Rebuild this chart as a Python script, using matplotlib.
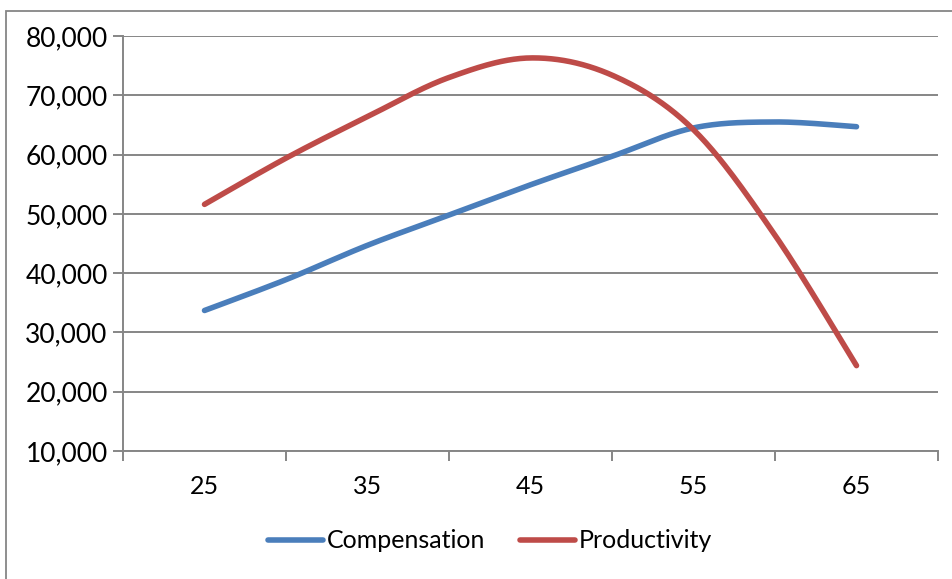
import numpy as np
import matplotlib
matplotlib.use("Agg")
import matplotlib.pyplot as plt
from matplotlib.lines import Line2D
from matplotlib.patches import Rectangle

ages = [25, 30, 35, 40, 45, 50, 55, 60, 65]
compensation = [33700, 38900, 44700, 49800, 54900, 59700, 64500, 65500, 64700]
productivity = [51600, 59400, 66400, 73000, 76300, 73400, 64200, 46400, 24400]
x_labels = ["25", "35", "45", "55", "65"]
x_label_pos = [25, 35, 45, 55, 65]
y_ticks = [10000, 20000, 30000, 40000, 50000, 60000, 70000, 80000]

BLUE = "#4A7EBB"
RED = "#BE4B48"
GRID = "#868686"
FONT = "Lato"


def smooth(xs, ys, n=40):
    """Excel-style smoothed line (cubic Bezier, Catmull-Rom control points)."""
    P = np.column_stack([xs, ys]).astype(float)
    m = len(P)
    out = []
    for i in range(m - 1):
        p0 = P[i - 1] if i > 0 else P[i]
        p1 = P[i]
        p2 = P[i + 1]
        p3 = P[i + 2] if i + 2 < m else P[i + 1]
        c1 = p1 + (p2 - p0) / 6.0
        c2 = p2 - (p3 - p1) / 6.0
        t = np.linspace(0, 1, n)[:, None]
        seg = ((1 - t) ** 3) * p1 + 3 * ((1 - t) ** 2) * t * c1 + 3 * (1 - t) * t ** 2 * c2 + t ** 3 * p2
        if i > 0:
            seg = seg[1:]
        out.append(seg)
    out = np.vstack(out)
    return out[:, 0], out[:, 1]


fig = plt.figure(figsize=(9.52, 5.79), dpi=100)
fig.patch.set_facecolor("white")

# outer chart frame
fig.patches.append(Rectangle((6 / 952, -0.2), 1.2, 1.2 - 11 / 579,
                             transform=fig.transFigure, fill=False,
                             edgecolor=GRID, linewidth=1.3))

ax = fig.add_axes([123 / 952, 1 - 451 / 579, (938 - 123) / 952, (451 - 36) / 579])
ax.set_xlim(20, 70)
ax.set_ylim(10000, 80000)

for yv in y_ticks:
    ax.axhline(yv, color=GRID, linewidth=1.4, zorder=1)

cx, cy = smooth(ages, compensation)
px, py = smooth(ages, productivity)
ax.plot(cx, cy, color=BLUE, linewidth=4.0, solid_capstyle="round", zorder=3)
ax.plot(px, py, color=RED, linewidth=4.0, solid_capstyle="round", zorder=3)

for s in ["top", "right"]:
    ax.spines[s].set_visible(False)
for s in ["left", "bottom"]:
    ax.spines[s].set_color(GRID)
    ax.spines[s].set_linewidth(1.4)

ax.set_yticks(y_ticks)
ax.set_yticklabels([f"{v:,}" for v in y_ticks], fontfamily=FONT, fontsize=19)
ax.tick_params(axis="y", length=7, width=1.4, color=GRID, pad=4)

ax.set_xticks([20, 30, 40, 50, 60, 70])
ax.set_xticklabels([])
ax.tick_params(axis="x", which="major", length=7, width=1.4, color=GRID)
ax.set_xticks(x_label_pos, minor=True)
ax.set_xticklabels(x_labels, minor=True, fontfamily=FONT, fontsize=18)
ax.tick_params(axis="x", which="minor", length=0, pad=17)

handles = [Line2D([], [], color=BLUE, linewidth=4.0, solid_capstyle="round"),
           Line2D([], [], color=RED, linewidth=4.0, solid_capstyle="round")]
fig.legend(handles, ["Compensation", "Productivity"], loc="center",
           bbox_to_anchor=(490 / 952, 1 - 541 / 579), ncol=2, frameon=False,
           prop={"family": FONT, "size": 18}, handlelength=2.2,
           handletextpad=0.15, columnspacing=1.4)

fig.savefig("out.png", dpi=100, facecolor="white")
